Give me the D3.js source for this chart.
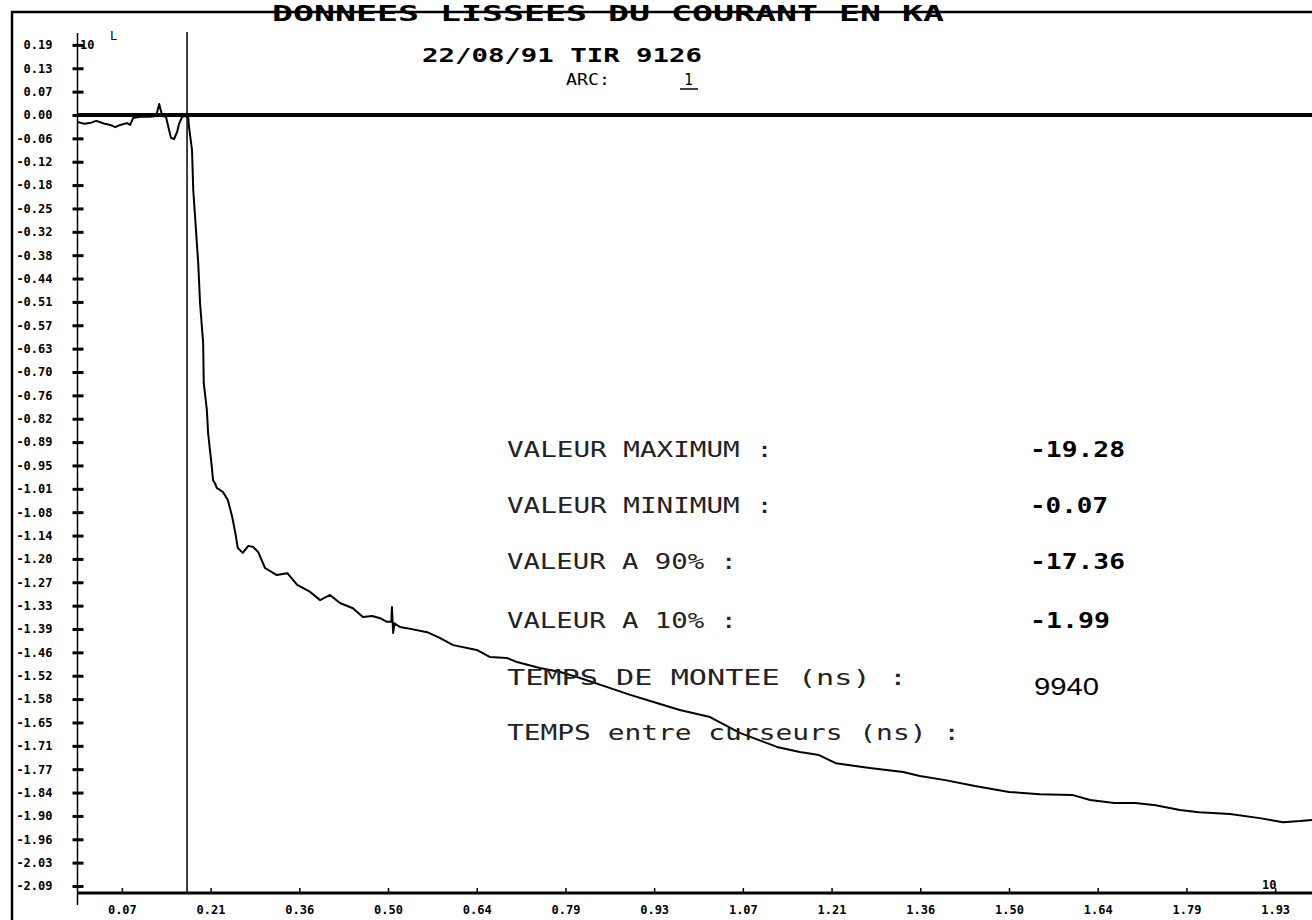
<!DOCTYPE html>
<html><head><meta charset="utf-8">
<script src="https://cdn.jsdelivr.net/npm/d3@7"></script>
<style>body{margin:0;background:#fff}svg{display:block}</style>
</head><body>
<svg id="c" width="1312" height="920"></svg>
<script>
// ---- data (time in units of 10 µs-ish, current in units of 10 kA) ----
const yTickLabels = ["0.19","0.13","0.07","0.00","-0.06","-0.12","-0.18","-0.25","-0.32","-0.38","-0.44","-0.51","-0.57","-0.63","-0.70","-0.76","-0.82","-0.89","-0.95","-1.01","-1.08","-1.14","-1.20","-1.27","-1.33","-1.39","-1.46","-1.52","-1.58","-1.65","-1.71","-1.77","-1.84","-1.90","-1.96","-2.03","-2.09"];
const xTickLabels = ["0.07","0.21","0.36","0.50","0.64","0.79","0.93","1.07","1.21","1.36","1.50","1.64","1.79","1.93"];
const timeData = [0.001,0.011,0.020,0.030,0.036,0.044,0.053,0.061,0.069,0.080,0.085,0.090,0.101,0.117,0.127,0.132,0.137,0.143,0.146,0.151,0.156,0.161,0.164,0.169,0.175,0.179,0.180,0.185,0.187,0.190,0.195,0.198,0.203,0.204,0.209,0.211,0.214,0.217,0.219,0.222,0.225,0.235,0.243,0.250,0.255,0.259,0.267,0.276,0.284,0.292,0.303,0.314,0.322,0.339,0.355,0.376,0.392,0.408,0.424,0.445,0.461,0.476,0.489,0.500,0.507,0.508,0.510,0.512,0.521,0.532,0.565,0.586,0.607,0.645,0.666,0.694,0.710,0.747,0.780,0.812,0.856,0.893,0.936,0.973,1.022,1.070,1.130,1.167,1.198,1.225,1.280,1.334,1.361,1.402,1.450,1.505,1.555,1.607,1.636,1.675,1.709,1.742,1.781,1.812,1.862,1.910,1.948,1.975,1.995];
const currentData = [-0.019,-0.024,-0.022,-0.016,-0.019,-0.024,-0.027,-0.033,-0.027,-0.022,-0.027,-0.008,-0.005,-0.005,-0.003,0.030,-0.003,-0.005,-0.027,-0.062,-0.065,-0.046,-0.024,-0.005,-0.003,-0.008,-0.030,-0.095,-0.203,-0.277,-0.401,-0.510,-0.618,-0.727,-0.800,-0.862,-0.908,-0.954,-0.990,-0.998,-1.011,-1.022,-1.044,-1.090,-1.133,-1.174,-1.187,-1.168,-1.171,-1.185,-1.228,-1.239,-1.247,-1.242,-1.274,-1.293,-1.315,-1.301,-1.323,-1.337,-1.361,-1.358,-1.364,-1.374,-1.374,-1.334,-1.404,-1.378,-1.388,-1.391,-1.402,-1.418,-1.437,-1.450,-1.469,-1.472,-1.483,-1.499,-1.510,-1.526,-1.551,-1.572,-1.594,-1.613,-1.632,-1.675,-1.713,-1.727,-1.735,-1.757,-1.770,-1.781,-1.792,-1.803,-1.819,-1.835,-1.841,-1.843,-1.857,-1.865,-1.865,-1.871,-1.884,-1.890,-1.895,-1.906,-1.917,-1.914,-1.911];
const cursorTimes = [0.177];
const statLabels = ["VALEUR MAXIMUM :","VALEUR MINIMUM :","VALEUR A 90% :","VALEUR A 10% :","TEMPS DE MONTEE (ns)   :","TEMPS entre curseurs (ns) :"];
const statValues = ["-19.28","-0.07","-17.36","-1.99","9940",""];
const titleText = "DONNEES LISSEES DU COURANT EN KA";
const subtitleText = "22/08/91   TIR 9126";
const arcLabel = "ARC:";
const arcValue = "1";
const axisMultiplier = "10";

// ---- layout ----
const svg = d3.select("#c");
const x = d3.scaleLinear().domain([0, 2.0]).range([77.5, 1315.4]);
const y = d3.scaleLinear().domain([0, -2.09]).range([115, 886]);
const xStep = 0.14333, yStep = 2.09 / 33;
const xTickValues = xTickLabels.map((d, i) => (i + 0.5) * xStep);
const yTickValues = yTickLabels.map((d, i) => (3 - i) * yStep);
const mono = "'DejaVu Sans Mono', 'Liberation Mono', monospace";

// frame
svg.append("path").attr("d", "M12,920V12H1312").attr("fill", "none").attr("stroke", "#000").attr("stroke-width", 2.5);

// title texts
svg.append("text").attr("x", 272).attr("y", 21).attr("textLength", 672).attr("lengthAdjust", "spacingAndGlyphs")
  .attr("font-family", mono).attr("font-weight", "bold").attr("font-size", 21).text(titleText);
svg.append("text").attr("x", 422).attr("y", 62).attr("textLength", 280).attr("lengthAdjust", "spacingAndGlyphs")
  .attr("font-family", mono).attr("font-size", 19).attr("font-weight", "bold").text(subtitleText);
svg.append("text").attr("x", 566).attr("y", 85).attr("textLength", 44).attr("lengthAdjust", "spacingAndGlyphs")
  .attr("font-family", mono).attr("font-size", 15).text(arcLabel);
svg.append("text").attr("x", 684).attr("y", 85).attr("font-family", mono).attr("font-size", 15).text(arcValue);
svg.append("line").attr("x1", 680).attr("x2", 698).attr("y1", 89).attr("y2", 89).attr("stroke", "#000").attr("stroke-width", 1.5);

// y axis
const yAxis = svg.append("g").attr("transform", `translate(${x(0)},0)`)
  .call(d3.axisLeft(y).tickValues(yTickValues).tickFormat((d, i) => yTickLabels[i]).tickSizeOuter(0).tickSizeInner(5).tickPadding(20));
yAxis.select(".domain").attr("d", `M0,33V905`).attr("stroke", "#000").attr("stroke-width", 1.5);
yAxis.selectAll(".tick line").attr("x1", -5).attr("x2", 6).attr("stroke", "#000").attr("stroke-width", 3);
yAxis.selectAll(".tick text").attr("font-family", mono).attr("font-weight", "bold").attr("font-size", 12).attr("fill", "#000");
svg.append("text").attr("x", 80).attr("y", 49).attr("font-family", mono).attr("font-weight", "bold").attr("font-size", 12).text(axisMultiplier);
svg.append("text").attr("x", 110).attr("y", 40).attr("font-family", mono).attr("font-size", 12).text("L");

// x axis
const xAxis = svg.append("g").attr("transform", `translate(0,${893})`)
  .call(d3.axisBottom(x).tickValues(xTickValues).tickFormat((d, i) => xTickLabels[i]).tickSizeOuter(0).tickSizeInner(-5).tickPadding(12));
xAxis.select(".domain").attr("d", `M${x(0)},0H1312`).attr("stroke", "#000").attr("stroke-width", 3);
xAxis.selectAll(".tick line").attr("stroke", "#000").attr("stroke-width", 1.5);
xAxis.selectAll(".tick text").attr("font-family", mono).attr("font-weight", "bold").attr("font-size", 12).attr("fill", "#000");
svg.append("text").attr("x", 1262).attr("y", 889).attr("font-family", mono).attr("font-weight", "bold").attr("font-size", 12).text(axisMultiplier);

// zero line
svg.append("line").attr("x1", x(0)).attr("x2", 1312).attr("y1", y(0)).attr("y2", y(0)).attr("stroke", "#000").attr("stroke-width", 4);

// cursor
svg.selectAll(".cursor").data(cursorTimes).join("line").attr("class", "cursor")
  .attr("x1", d => x(d)).attr("x2", d => x(d)).attr("y1", 32).attr("y2", 893).attr("stroke", "#000").attr("stroke-width", 1.5);

// curve
const pts = timeData.map((t, i) => [t, currentData[i]]);
svg.append("path").datum(pts).attr("fill", "none").attr("stroke", "#000").attr("stroke-width", 2).attr("stroke-linejoin", "round")
  .attr("d", d3.line().x(d => x(d[0])).y(d => y(d[1])));

// stats block
const labelWidths = [266, 266, 230, 230, 400, 453];
const rowY = [457, 513, 569, 628, 685, 740];
const valueWidths = [95, 78, 95, 80, 65, 0];
statLabels.forEach((s, i) => {
  svg.append("text").attr("x", 507).attr("y", rowY[i]).attr("textLength", labelWidths[i]).attr("lengthAdjust", "spacingAndGlyphs")
    .attr("font-family", mono).attr("font-size", 21).attr("fill", "#222").text(s);
  if (statValues[i]) {
    const hand = i === 4;
    svg.append("text").attr("x", hand ? 1034 : 1030).attr("y", rowY[i] + (hand ? 10 : 0)).attr("textLength", valueWidths[i]).attr("lengthAdjust", "spacingAndGlyphs")
      .attr("font-family", hand ? "'Liberation Sans', sans-serif" : mono).attr("font-size", hand ? 24 : 21).attr("font-weight", hand ? "normal" : "bold").text(statValues[i]);
  }
});
</script>
</body></html>
